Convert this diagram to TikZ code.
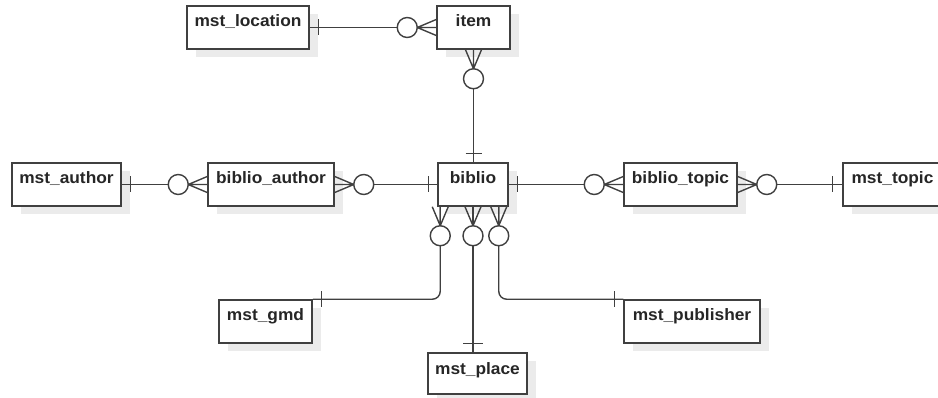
\documentclass[tikz,border=0pt]{standalone}
\usepackage{fontspec}
\newfontfamily\lblfont{Liberation Sans}[FakeStretch=1.05]
\usetikzlibrary{shadows}
\tikzset{
  ent/.style={draw=black!75, line width=1.5pt, fill=white, inner xsep=0pt, inner ysep=0pt,
    text height=21pt, text depth=22pt,
    font=\lblfont\bfseries\fontsize{16.5}{18}\selectfont, text=black!85,
    drop shadow={shadow xshift=9pt, shadow yshift=-8pt, fill=black!8, opacity=1, draw=none}},
  conn/.style={draw=black!75, line width=1.4pt},
}
\newcommand\crowmany[2]{%
  \begin{scope}[shift={#1},rotate=#2]
    \draw[conn] (0,8) -- (19,0) -- (0,-8) (0,0) -- (19,0);
    \draw[conn,fill=white] (29,0) circle[radius=10];
  \end{scope}}
\begin{document}
\begin{tikzpicture}[x=1pt,y=1pt]
\useasboundingbox (0,0) rectangle (938,-398);
\clip (0,0) rectangle (938,-398);
% entities
\node[ent, minimum width=122pt] (mst_location) at (248,-27.5) {mst\_location};
\node[ent, minimum width=73pt] (item) at (473.5,-27.5) {item};
\node[ent, minimum width=109pt] (mst_author) at (66.5,-184.5) {mst\_author};
\node[ent, minimum width=126pt] (biblio_author) at (271,-184.5) {biblio\_author};
\node[ent, minimum width=70pt] (biblio) at (473,-184.5) {biblio};
\node[ent, minimum width=113pt] (biblio_topic) at (680.5,-184.5) {biblio\_topic};
\node[ent, minimum width=99pt] (mst_topic) at (892.5,-184.5) {mst\_topic};
\node[ent, minimum width=93pt] (mst_gmd) at (265.5,-321.5) {mst\_gmd};
\node[ent, minimum width=136pt] (mst_publisher) at (692,-321.5) {mst\_publisher};
\node[ent, minimum width=99pt, text depth=20pt] (mst_place) at (477.5,-373.5) {mst\_place};
% connectors
\draw[conn] (mst_location.east) -- (item.west);
\draw[conn] ([xshift=9]mst_location.east) ++(0,8) -- ++(0,-16);
\crowmany{(item.west)}{180}

\coordinate (ib) at (item.south |- biblio.north);
\draw[conn] (item.south) -- (ib);
\draw[conn] ([yshift=9]ib) ++(-8,0) -- ++(16,0);
\crowmany{(item.south)}{-90}

\draw[conn] (mst_author.east) -- (biblio_author.west);
\draw[conn] ([xshift=9]mst_author.east) ++(0,8) -- ++(0,-16);
\crowmany{(biblio_author.west)}{180}

\draw[conn] (biblio_author.east) -- (biblio.west);
\draw[conn] ([xshift=-9]biblio.west) ++(0,8) -- ++(0,-16);
\crowmany{(biblio_author.east)}{0}

\draw[conn] (biblio.east) -- (biblio_topic.west);
\draw[conn] ([xshift=9]biblio.east) ++(0,8) -- ++(0,-16);
\crowmany{(biblio_topic.west)}{180}

\draw[conn] (biblio_topic.east) -- (mst_topic.west);
\draw[conn] ([xshift=-10]mst_topic.west) ++(0,8) -- ++(0,-16);
\crowmany{(biblio_topic.east)}{0}

\coordinate (bg) at ([xshift=3]biblio.south west);
\draw[conn, rounded corners=8] (bg) |- (mst_gmd.north east);
\draw[conn] ([xshift=9]mst_gmd.north east) ++(0,8) -- ++(0,-16);
\crowmany{(bg)}{-90}

\coordinate (bpl) at (biblio.south |- mst_place.north);
\draw[conn] (biblio.south) -- (bpl);
\draw[conn] ([yshift=9]bpl) ++(-10,0) -- ++(20,0);
\crowmany{(biblio.south)}{-90}

\coordinate (bp) at ([xshift=-10]biblio.south east);
\draw[conn, rounded corners=8] (bp) |- (mst_publisher.north west);
\draw[conn] ([xshift=-9]mst_publisher.north west) ++(0,8) -- ++(0,-16);
\crowmany{(bp)}{-90}
\end{tikzpicture}
\end{document}
